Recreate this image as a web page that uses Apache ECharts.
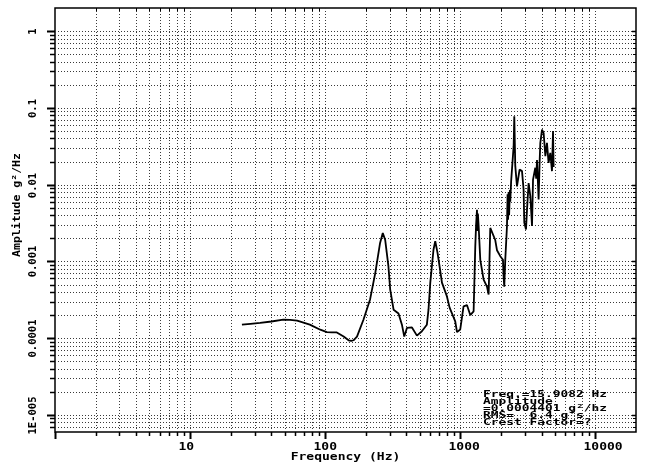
<!DOCTYPE html>
<html>
<head>
<meta charset="utf-8">
<script src="https://cdn.jsdelivr.net/npm/echarts@6/dist/echarts.min.js"></script>
<style>
  html, body { margin: 0; padding: 0; background: #fff; }
  #chart { width: 645px; height: 462px; }
</style>
</head>
<body>
<div id="chart"></div>
<script>
// Acceleration PSD: frequency (Hz) against amplitude (g²/Hz)
const freqHz = [
  24.2, 28, 33, 40, 49, 55, 62, 77, 92, 103,
  112, 122, 137, 149, 156, 162, 172, 192, 215, 235,
  255, 267, 278, 294, 303, 321, 349, 370, 385, 403,
  439, 478, 520, 566, 582, 600, 634, 653, 679, 703,
  732, 797, 834, 918, 946, 1000, 1058, 1121, 1186, 1256,
  1292, 1310, 1330, 1340, 1350, 1368, 1407, 1489, 1577, 1622,
  1668, 1718, 1816, 1870, 1978, 2071, 2093, 2117, 2154, 2218,
  2240, 2260, 2280, 2300, 2330, 2345, 2380, 2415, 2484, 2512,
  2555, 2630, 2749, 2865, 2944, 2979, 3067, 3120, 3206, 3302,
  3398, 3457, 3594, 3650, 3700, 3803, 3870, 3915, 4030, 4143,
  4266, 4385, 4508, 4641, 4777, 4861, 4911
];
const ampG2Hz = [
  1.50e-4, 1.54e-4, 1.58e-4, 1.65e-4, 1.74e-4, 1.73e-4, 1.69e-4, 1.50e-4, 1.29e-4, 1.20e-4,
  1.19e-4, 1.19e-4, 1.05e-4, 9.4e-5, 9.2e-5, 9.4e-5, 1.05e-4, 1.74e-4, 3.2e-4, 7.1e-4,
  1.74e-3, 2.35e-3, 1.92e-3, 8.6e-4, 4.3e-4, 2.35e-4, 2.1e-4, 1.5e-4, 1.05e-4, 1.36e-4,
  1.38e-4, 1.08e-4, 1.23e-4, 1.5e-4, 2.35e-4, 5.3e-4, 1.43e-3, 1.83e-3, 1.29e-3, 8.6e-4,
  5.3e-4, 3.5e-4, 2.5e-4, 1.66e-4, 1.2e-4, 1.3e-4, 2.6e-4, 2.7e-4, 2.0e-4, 2.24e-4,
  1.57e-3, 3.0e-3, 4.7e-3, 2.5e-3, 4.2e-3, 2.9e-3, 1.05e-3, 5.8e-4, 4.7e-4, 3.7e-4,
  2.73e-3, 2.6e-3, 1.9e-3, 1.4e-3, 1.17e-3, 1.05e-3, 6.4e-4, 4.7e-4, 1.05e-3, 2.9e-3,
  7.5e-3, 3.5e-3, 8.0e-3, 4.0e-3, 8.5e-3, 6.0e-3, 1.1e-2, 1.16e-2, 3.17e-2, 7.8e-2,
  1.74e-2, 9.5e-3, 1.57e-2, 1.5e-2, 8.6e-3, 3.2e-3, 2.6e-3, 4.7e-3, 1.05e-2, 7.1e-3,
  2.9e-3, 1.16e-2, 1.66e-2, 1.2e-2, 2.1e-2, 6.4e-3, 2.0e-2, 3.5e-2, 5.2e-2, 4.7e-2,
  2.35e-2, 3.5e-2, 1.92e-2, 2.6e-2, 1.5e-2, 5.0e-2, 1.7e-2
];

// Axis extents and tick labels
const xRange = [1, 20000];
const yRange = [6e-6, 2];
const xDecades = [1, 10, 100, 1000, 10000];
const xTickLabels = ['', '10', '100', '1000', '10000'];
const yDecades = [1e-6, 1e-5, 1e-4, 1e-3, 1e-2, 1e-1, 1];
const yTickLabels = ['', '1E-005', '0.0001', '0.001', '0.01', '0.1', '1'];
const minorSteps = [2, 3, 4, 5, 6, 7, 8, 9];
const xTitle = 'Frequency (Hz)';
const yTitle = 'Amplitude g²/Hz';
const readout = ['Freq.=15.9082 Hz', 'Amplitude', '=0.0004401 g²/hz', "RMS=  6.4 g's", 'Crest Factor=?'];

const FONT = 'bold 10px "DejaVu Sans Mono", monospace';
const SMALL_FONT = 'bold 9px "DejaVu Sans Mono", monospace';

function ticksWithin(decades, range) {
  const major = [], minor = [];
  decades.forEach(d => {
    if (d >= range[0] && d <= range[1]) major.push(d);
    minorSteps.forEach(m => {
      const v = m * d;
      if (v > range[0] && v < range[1]) minor.push(v);
    });
  });
  return { major, minor };
}
const xTicks = ticksWithin(xDecades, xRange);
const yTicks = ticksWithin(yDecades, yRange);

// Dotted log grid, ticks, tick labels, titles and the cursor readout
function renderFrame(params, api) {
  const lb = api.coord([xRange[0], yRange[0]]);
  const rt = api.coord([xRange[1], yRange[1]]);
  const L = lb[0], B = lb[1], R = rt[0], T = rt[1];
  const px = v => Math.round(api.coord([v, yRange[0]])[0]) + 0.5;
  const py = v => Math.round(api.coord([xRange[0], v])[1]) + 0.5;
  const kids = [];
  const dotted = { stroke: '#3a3a3a', lineWidth: 1, lineDash: [1, 2] };
  const line = (x1, y1, x2, y2, w) => kids.push({
    type: 'line', shape: { x1, y1, x2, y2 }, style: { stroke: '#000', lineWidth: w }
  });

  xTicks.major.concat(xTicks.minor).forEach(v => {
    const x = px(v);
    if (x > L + 1 && x < R - 1) {
      kids.push({ type: 'line', shape: { x1: x, y1: T, x2: x, y2: B }, style: dotted });
    }
  });
  yTicks.major.concat(yTicks.minor).forEach(v => {
    const y = py(v);
    if (y > T + 1 && y < B - 1) {
      kids.push({ type: 'line', shape: { x1: L, y1: y, x2: R, y2: y }, style: dotted });
    }
  });

  // bottom / top ticks
  xTicks.major.forEach(v => { const x = px(v); line(x, B, x, B + 7, 2); });
  xTicks.minor.forEach(v => { const x = px(v); line(x, B, x, B + 4, 1.5); line(x, T, x, T + 3, 1); });
  // left / right ticks
  yTicks.major.forEach(v => { const y = py(v); line(L - 8, y, L, y, 2); line(R - 4, y, R, y, 1.5); });
  yTicks.minor.forEach(v => { const y = py(v); line(L - 5, y, L, y, 1.5); line(R - 3, y, R, y, 1); });

  // x tick labels
  xDecades.forEach((v, i) => {
    if (!xTickLabels[i]) return;
    kids.push({
      type: 'text', x: px(v) - 12, y: B + 15, scaleX: 1.3,
      style: { text: xTickLabels[i], font: FONT, fill: '#000', align: 'left', verticalAlign: 'middle' }
    });
  });
  // y tick labels (rotated)
  yDecades.forEach((v, i) => {
    if (!yTickLabels[i] || v < yRange[0] || v > yRange[1]) return;
    kids.push({
      type: 'text', x: L - 22, y: py(v), rotation: Math.PI / 2, scaleX: 1.05,
      style: { text: yTickLabels[i], font: FONT, fill: '#000', align: 'center', verticalAlign: 'middle' }
    });
  });
  // axis titles
  kids.push({
    type: 'text', x: (L + R) / 2, y: B + 25.5, scaleX: 1.3,
    style: { text: xTitle, font: FONT, fill: '#000', align: 'center', verticalAlign: 'middle' }
  });
  kids.push({
    type: 'text', x: L - 38, y: T + 197, rotation: Math.PI / 2, scaleX: 1.15,
    style: { text: yTitle, font: FONT, fill: '#000', align: 'center', verticalAlign: 'middle' }
  });
  // cursor readout box
  readout.forEach((s, i) => {
    kids.push({
      type: 'text', x: R - 153, y: B - 37 + i * 7, scaleX: 1.43,
      style: { text: s, font: SMALL_FONT, fill: '#000', align: 'left', verticalAlign: 'middle' }
    });
  });
  return { type: 'group', children: kids };
}

const chart = echarts.init(document.getElementById('chart'), null, { renderer: 'canvas' });
chart.setOption({
  animation: false,
  backgroundColor: '#fff',
  grid: {
    left: 55, top: 8, right: 9, bottom: 30,
    show: true, borderColor: '#000', borderWidth: 1.5,
    outerBoundsMode: 'none'
  },
  xAxis: {
    type: 'log', logBase: 10, min: xRange[0], max: xRange[1],
    axisLine: { show: false }, axisTick: { show: false },
    axisLabel: { show: false }, splitLine: { show: false }
  },
  yAxis: {
    type: 'log', logBase: 10, min: yRange[0], max: yRange[1],
    axisLine: { show: false }, axisTick: { show: false },
    axisLabel: { show: false }, splitLine: { show: false }
  },
  series: [
    {
      type: 'custom', silent: true, clip: false, z: 1,
      data: [[xRange[0], yRange[0]]],
      renderItem: renderFrame
    },
    {
      type: 'line', z: 3, silent: true,
      data: freqHz.map((f, i) => [f, ampG2Hz[i]]),
      showSymbol: false, symbol: 'none',
      lineStyle: { color: '#000', width: 1.8 }
    }
  ]
});
</script>
</body>
</html>
